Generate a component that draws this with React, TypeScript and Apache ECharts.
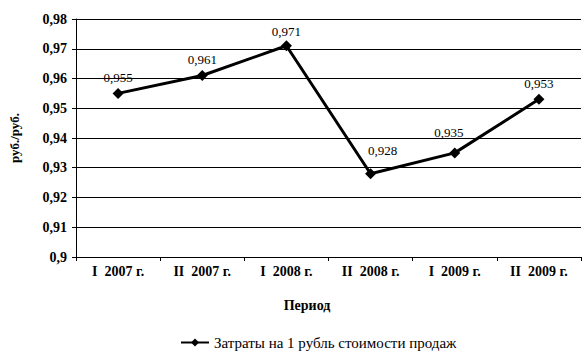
import React, { useEffect, useRef } from "react";
import * as echarts from "echarts";

const categories = ["I  2007 г.", "II  2007 г.", "I  2008 г.", "II  2008 г.", "I  2009 г.", "II  2009 г."];
const values = [0.955, 0.961, 0.971, 0.928, 0.935, 0.953];
const labelOffsets: [number, number][] = [[0, 0], [0, 0], [0, 2], [12, -7], [-6, -4], [0, 0]];
const seriesName = "Затраты на 1 рубль стоимости продаж";
const yMin = 0.9;
const yMax = 0.98;
const yStep = 0.01;

const fmt = (v: number) => String(Math.round(v * 1000) / 1000).replace(".", ",");
const FONT = "'Liberation Serif', 'Times New Roman', serif";

export default function App() {
  const ref = useRef<HTMLDivElement>(null);
  useEffect(() => {
    const chart = echarts.init(ref.current!, null, { renderer: "svg" });
    chart.setOption({
      animation: false,
      backgroundColor: "#fff",
      grid: { left: 75, right: 5, top: 19, bottom: 104, containLabel: false },
      xAxis: {
        type: "category",
        data: categories,
        boundaryGap: true,
        axisLine: { lineStyle: { color: "#000", width: 1 } },
        axisTick: { show: true, alignWithLabel: false, length: 4, lineStyle: { color: "#000" } },
        axisLabel: {
          color: "#000",
          fontFamily: FONT,
          fontWeight: "bold",
          fontSize: 14,
          margin: 7,
          formatter: (v: string) => v.replace(/ /g, "\u00a0"),
        },
        splitLine: { show: false },
      },
      yAxis: {
        type: "value",
        min: yMin,
        max: yMax,
        interval: yStep,
        name: "руб./руб.",
        nameLocation: "middle",
        nameGap: 55,
        nameRotate: 90,
        nameTextStyle: { color: "#000", fontFamily: FONT, fontWeight: "bold", fontSize: 13 },
        axisLine: { show: true, lineStyle: { color: "#000", width: 1 } },
        axisTick: { show: true, length: 4, lineStyle: { color: "#000" } },
        axisLabel: { color: "#000", fontFamily: FONT, fontWeight: "bold", fontSize: 14, margin: 9, formatter: (v: number) => fmt(v) },
        splitLine: { show: true, lineStyle: { color: "#000", width: 1 } },
      },
      legend: {
        show: true,
        left: 175,
        top: 330,
        itemWidth: 28,
        itemHeight: 10,
        itemGap: 6,
        textStyle: { color: "#000", fontFamily: FONT, fontSize: 15 },
        data: [seriesName],
      },
      graphic: [
        {
          type: "text",
          x: 307,
          y: 305,
          style: {
            text: "Период",
            fill: "#000",
            font: `bold 14px ${FONT}`,
            align: "center",
            verticalAlign: "middle",
          },
        },
      ],
      series: [
        {
          name: seriesName,
          type: "line",
          data: values.map((v, i) => ({ value: v, label: { offset: labelOffsets[i] } })),
          symbol: "diamond",
          symbolSize: 11,
          lineStyle: { color: "#000", width: 3 },
          itemStyle: { color: "#000" },
          label: {
            show: true,
            position: "top",
            distance: 4,
            color: "#000",
            fontFamily: FONT,
            fontSize: 13,
            formatter: (p: any) => fmt(p.value),
          },
        },
      ],
    });
    return () => chart.dispose();
  }, []);
  return <div ref={ref} style={{ width: 586, height: 361, position: "absolute", left: 0, top: 0 }} />;
}
